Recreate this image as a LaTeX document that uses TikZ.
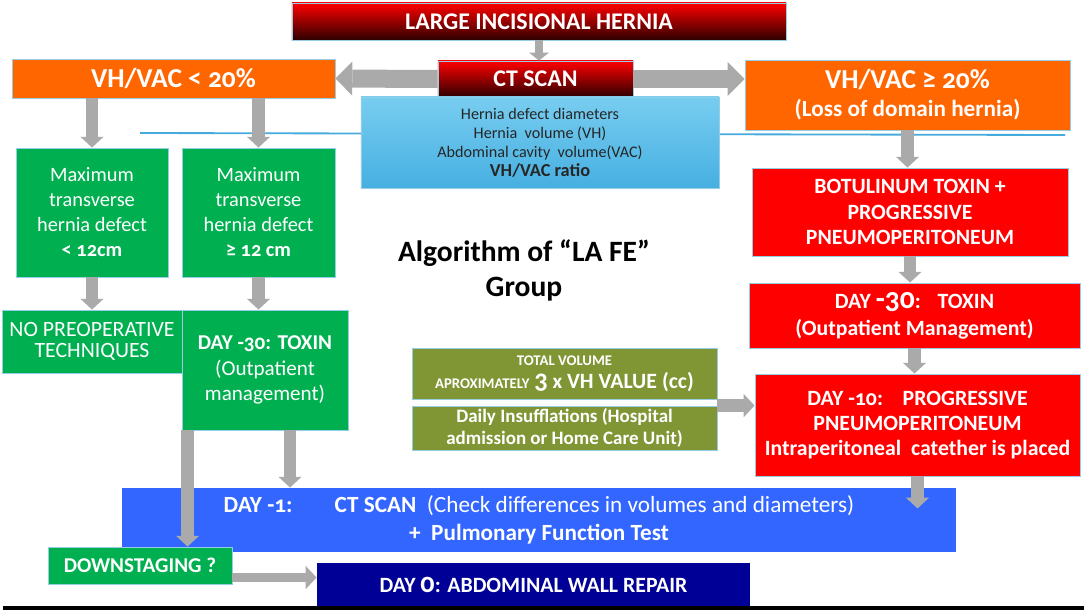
\documentclass[tikz,border=0pt]{standalone}
\usepackage{fontspec}
\setmainfont{Carlito}[Numbers=OldStyle]
\usetikzlibrary{arrows.meta,positioning}

\definecolor{hernRed}{RGB}{255,0,0}
\definecolor{hernMid}{RGB}{175,0,0}
\definecolor{hernDark}{RGB}{45,0,0}
\definecolor{vacOrange}{RGB}{255,102,0}
\definecolor{boxGreen}{RGB}{0,176,80}
\definecolor{skyTop}{RGB}{120,205,240}
\definecolor{skyBot}{RGB}{70,175,225}
\definecolor{oliveBox}{RGB}{128,150,52}
\definecolor{dayBlue}{RGB}{51,102,255}
\definecolor{navyBox}{RGB}{0,0,150}
\definecolor{arrowGray}{RGB}{170,170,170}
\definecolor{seaLine}{RGB}{70,170,220}
\definecolor{edgeBlue}{RGB}{150,205,230}

\tikzset{
  flowbox/.style={rectangle, draw=edgeBlue, line width=0.6pt, inner sep=0pt, align=center, text=white},
  gradbox/.style={flowbox, top color=hernRed, middle color=hernMid, bottom color=hernDark, font=\fontsize{17}{20}\selectfont\bfseries},
  orangebox/.style={flowbox, fill=vacOrange, font=\fontsize{16.5}{20}\selectfont\bfseries},
  skybox/.style={flowbox, top color=skyTop, bottom color=skyBot, text=black!85, font=\fontsize{11.5}{13.5}\selectfont},
  greenbox/.style={flowbox, fill=boxGreen, font=\fontsize{14.5}{17.8}\selectfont},
  redbox/.style={flowbox, fill=hernRed, font=\fontsize{15.5}{18}\selectfont\bfseries},
  olivebox/.style={flowbox, fill=oliveBox, font=\fontsize{15}{16.5}\selectfont\bfseries},
  bluebox/.style={flowbox, draw=none, fill=dayBlue, font=\fontsize{16.5}{20}\selectfont\bfseries},
  navybox/.style={flowbox, draw=none, fill=navyBox, font=\fontsize{15.5}{18}\selectfont\bfseries},
  bigarrow/.style={draw=arrowGray, line width=0.45cm, -{Triangle[width=0.85cm,length=0.42cm,line width=0pt]}},
  downarrow/.style={draw=arrowGray, line width=0.32cm, -{Triangle[width=0.58cm,length=0.27cm,line width=0pt]}},
  smallarrow/.style={draw=arrowGray, line width=0.2cm, -{Triangle[width=0.5cm,length=0.2cm,line width=0pt]}}
}

\begin{document}
\begin{tikzpicture}[x=0.025cm,y=-0.025cm]
\useasboundingbox (0,0) rectangle (1084,612);

\draw[seaLine, line width=1.3pt] (140,133) -- (600,134) -- (1065,135); % sketch line

% top
\node[gradbox, minimum width=12.35cm, minimum height=0.925cm] (hernia) at (539,21.5) {LARGE INCISIONAL HERNIA};
\node[gradbox, minimum width=4.875cm, minimum height=0.9cm] (ctscan) at (535.5,79) {CT SCAN};
\node[orangebox, minimum width=8.075cm, minimum height=0.975cm, font=\fontsize{19.5}{22}\selectfont\bfseries] (vhlow) at (173.5,78.5) {VH/VAC < 20\%};
\node[orangebox, minimum width=8.125cm, minimum height=1.75cm] (vhhigh) at (907.5,95) {{\fontsize{19.5}{20}\selectfont VH/VAC ≥ 20\%}\\(Loss of domain hernia)};
\node[skybox, minimum width=8.95cm, minimum height=2.275cm] (ctinfo) at (540,142.5) {Hernia defect diameters\\Hernia\ \ volume (VH)\\Abdominal cavity\ \ volume(VAC)\\{\bfseries\fontsize{13}{16}\selectfont VH/VAC ratio}};

% left column
\node[greenbox, minimum width=3.8cm, minimum height=3.225cm] (defsmall) at (92,212.5) {Maximum\\transverse\\hernia defect\\\textbf{< 12cm}};
\node[greenbox, minimum width=3.825cm, minimum height=3.225cm] (deflarge) at (258.5,212.5) {Maximum\\transverse\\hernia defect\\\textbf{≥ 12 cm}};
\node[greenbox, minimum width=4.5cm, minimum height=1.575cm, font=\fontsize{15.5}{15}\selectfont] (noprep) at (92,341.5) {NO PREOPERATIVE\\TECHNIQUES};
\node[greenbox, minimum width=4.15cm, minimum height=3cm, font=\fontsize{15}{18}\selectfont] (toxgreen) at (265,370) {\textbf{DAY -30: TOXIN}\\(Outpatient\\management)};

% right column
\node[redbox, minimum width=7.9cm, minimum height=2.2cm] (botox) at (910,212) {BOTULINUM TOXIN +\\PROGRESSIVE\\PNEUMOPERITONEUM};
\node[redbox, minimum width=8.275cm, minimum height=1.625cm, font=\fontsize{15.5}{19}\selectfont\bfseries] (toxred) at (914.5,315.5) {DAY {\fontsize{21}{21}\selectfont -30}:\hspace{12pt}TOXIN\\(Outpatient Management)};
\node[redbox, minimum width=8.125cm, minimum height=2.55cm] (pneumo) at (917.5,425) {DAY -10:\hspace{14pt}PROGRESSIVE\\PNEUMOPERITONEUM\\Intraperitoneal\ \ catether is placed};

% middle
\node[font=\fontsize{21}{25}\selectfont\bfseries, align=center] (title) at (524,270) {Algorithm of “LA FE”\\Group};
\node[olivebox, minimum width=7.625cm, minimum height=1.275cm] (volume) at (564.5,373.5) {{\fontsize{10.5}{12}\selectfont TOTAL VOLUME}\\{\fontsize{10.5}{12}\selectfont APROXIMATELY} {\fontsize{19}{19}\selectfont 3} x {\fontsize{15.5}{16}\selectfont VH VALUE (cc)}};
\node[olivebox, minimum width=7.625cm, minimum height=1.1cm, font=\fontsize{13.5}{15.5}\selectfont\bfseries] (insuff) at (564.5,428) {Daily Insufflations (Hospital\\admission or Home Care Unit)};

% bottom
\node[bluebox, minimum width=20.85cm, minimum height=1.6cm] (dayminus1) at (539,520) {DAY -1:\hspace{30pt}CT SCAN\ \ {\mdseries(Check differences in volumes and diameters)}\\+\ \ Pulmonary Function Test};
\node[greenbox, minimum width=4.6cm, minimum height=0.925cm, font=\fontsize{15}{18}\selectfont\bfseries] (downst) at (140,565.5) {DOWNSTAGING ?};
\node[navybox, minimum width=10.825cm, minimum height=1.075cm] (dayzero) at (533.5,584.5) {DAY {\fontsize{20}{20}\selectfont 0}: ABDOMINAL WALL REPAIR};

% arrows
\draw[smallarrow] (hernia.south) -- (hernia.south |- ctscan.north);
\draw[bigarrow] (ctscan.west) -- (vhlow.east);
\draw[bigarrow] (ctscan.east) -- (ctscan.east -| vhhigh.west);
\draw[downarrow] (defsmall.north |- vhlow.south) -- (defsmall.north);
\draw[downarrow] (deflarge.north |- vhlow.south) -- (deflarge.north);
\draw[downarrow] (defsmall.south) -- (noprep.north);
\draw[downarrow] (deflarge.south) -- (deflarge.south |- toxgreen.north);
\draw[downarrow] (vhhigh.south) -- (vhhigh.south |- botox.north);
\draw[downarrow] (botox.south) -- (botox.south |- toxred.north);
\draw[downarrow] (toxred.south) -- (toxred.south |- pneumo.north);
\draw[downarrow] (insuff.north east) -- (insuff.north east -| pneumo.west);

\coordinate (tgl) at ([xshift=0.15cm]toxgreen.south west);
\coordinate (tgr) at ([xshift=0.625cm]toxgreen.south);
\coordinate (pmin) at ([yshift=-0.8cm]pneumo.south);
\coordinate (dsr) at ([yshift=-0.3cm]downst.east);
\draw[downarrow] (tgl) -- (tgl |- downst.north);
\draw[downarrow] (tgr) -- (tgr |- dayminus1.north);
\draw[downarrow] (pneumo.south) -- (pmin);
\draw[downarrow, line width=0.24cm] (dsr) -- (dsr -| dayzero.west);

\draw[line width=2.2pt] (3,608) -- (1084,608); % base line
\end{tikzpicture}
\end{document}
